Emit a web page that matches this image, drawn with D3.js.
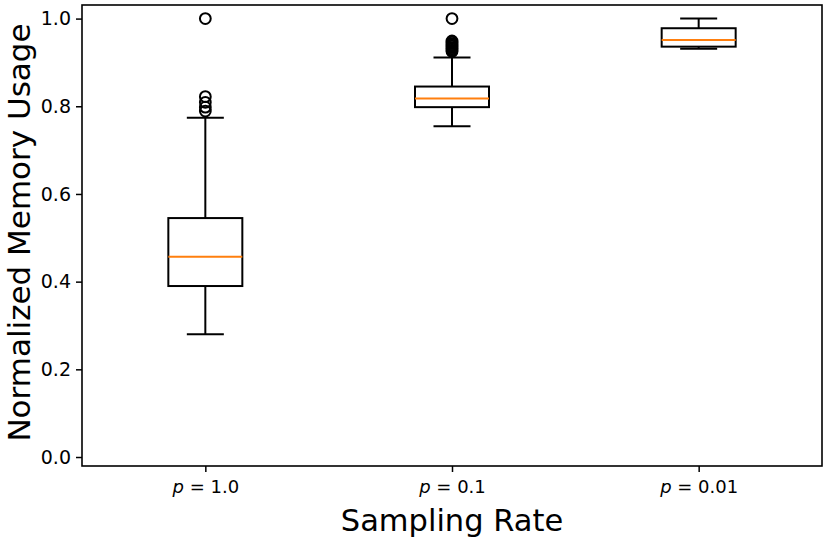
<!DOCTYPE html>
<html>
<head>
<meta charset="utf-8">
<script src="https://cdn.jsdelivr.net/npm/d3@7"></script>
<style>
  body { margin: 0; background: #fff; }
  svg { display: block; font-family: "DejaVu Sans", sans-serif; }
</style>
</head>
<body>
<div id="chart"></div>
<script>
// box statistics
const categories = ["1.0", "0.1", "0.01"];
const whiskerLow = [0.280, 0.7545, 0.931];
const q1 = [0.390, 0.798, 0.936];
const medians = [0.457, 0.8175, 0.951];
const q3 = [0.545, 0.845, 0.978];
const whiskerHigh = [0.774, 0.911, 1.0];
const outliers = [
    [1.0, 0.822, 0.809, 0.798, 0.789],
    [1.0, 0.949, 0.946, 0.943, 0.940, 0.937, 0.934, 0.931, 0.928, 0.925],
    []
];
const yTicks = [0.0, 0.2, 0.4, 0.6, 0.8, 1.0];

const width = 830;
const height = 554;
const margin = { top: 5, right: 8, bottom: 88, left: 82 };

const svg = d3.select("#chart")
    .append("svg")
    .attr("width", width)
    .attr("height", height);

const x = d3.scaleLinear()
    .domain([0.5, categories.length + 0.5])
    .range([margin.left, width - margin.right]);

const y = d3.scaleLinear()
    .domain([-0.0205, 1.031])
    .range([height - margin.bottom, margin.top]);

const boxW = x(1.3) - x(1.0);
const capW = boxW / 2;

const boxes = categories.map((c, i) => ({
    cat: c, pos: i + 1,
    lo: whiskerLow[i], q1: q1[i], med: medians[i], q3: q3[i], hi: whiskerHigh[i],
    out: outliers[i]
}));

const g = svg.append("g");

const box = g.selectAll(".box")
    .data(boxes)
    .enter().append("g")
    .attr("class", "box");

// whiskers
box.append("line")
    .attr("x1", d => x(d.pos)).attr("x2", d => x(d.pos))
    .attr("y1", d => y(d.q1)).attr("y2", d => y(d.lo))
    .attr("stroke", "#000").attr("stroke-width", 2);
box.append("line")
    .attr("x1", d => x(d.pos)).attr("x2", d => x(d.pos))
    .attr("y1", d => y(d.q3)).attr("y2", d => y(d.hi))
    .attr("stroke", "#000").attr("stroke-width", 2);

// caps
box.append("line")
    .attr("x1", d => x(d.pos) - capW / 2).attr("x2", d => x(d.pos) + capW / 2)
    .attr("y1", d => y(d.lo)).attr("y2", d => y(d.lo))
    .attr("stroke", "#000").attr("stroke-width", 2);
box.append("line")
    .attr("x1", d => x(d.pos) - capW / 2).attr("x2", d => x(d.pos) + capW / 2)
    .attr("y1", d => y(d.hi)).attr("y2", d => y(d.hi))
    .attr("stroke", "#000").attr("stroke-width", 2);

// box body
box.append("rect")
    .attr("x", d => x(d.pos) - boxW / 2)
    .attr("width", boxW)
    .attr("y", d => y(d.q3))
    .attr("height", d => y(d.q1) - y(d.q3))
    .attr("fill", "none")
    .attr("stroke", "#000")
    .attr("stroke-width", 2);

// median
box.append("line")
    .attr("x1", d => x(d.pos) - boxW / 2).attr("x2", d => x(d.pos) + boxW / 2)
    .attr("y1", d => y(d.med)).attr("y2", d => y(d.med))
    .attr("stroke", "#ff7f0e").attr("stroke-width", 2);

// fliers
box.selectAll(".flier")
    .data(d => d.out.map(v => ({ pos: d.pos, v: v })))
    .enter().append("circle")
    .attr("class", "flier")
    .attr("cx", d => x(d.pos))
    .attr("cy", d => y(d.v))
    .attr("r", 5.4)
    .attr("fill", "none")
    .attr("stroke", "#000")
    .attr("stroke-width", 2);

// y axis
const yAxis = svg.append("g")
    .attr("transform", `translate(${margin.left},0)`)
    .call(d3.axisLeft(y).tickValues(yTicks).tickFormat(d3.format(".1f")).tickSize(6).tickPadding(5));

// x axis
const xAxis = svg.append("g")
    .attr("transform", `translate(0,${height - margin.bottom})`)
    .call(d3.axisBottom(x).tickValues(boxes.map(d => d.pos)).tickFormat("").tickSize(6));

[yAxis, xAxis].forEach(a => {
    a.select(".domain").remove();
    a.selectAll(".tick line").attr("stroke", "#000").attr("stroke-width", 1.5);
});
yAxis.selectAll(".tick text")
    .attr("fill", "#000")
    .style("font-size", "19px")
    .style("font-family", "DejaVu Sans");

// x tick labels with italic p
xAxis.selectAll(".tick").each(function(d) {
    const t = d3.select(this).select("text")
        .attr("y", 27)
        .attr("dy", null)
        .attr("fill", "#000")
        .style("font-size", "18px")
        .style("font-family", "DejaVu Sans")
        .text(null);
    t.append("tspan").style("font-style", "italic").text("p");
    t.append("tspan").text(" = " + categories[d - 1]);
});

// frame
svg.append("rect")
    .attr("x", margin.left)
    .attr("y", margin.top)
    .attr("width", width - margin.left - margin.right)
    .attr("height", height - margin.top - margin.bottom)
    .attr("fill", "none")
    .attr("stroke", "#000")
    .attr("stroke-width", 1.6);

// axis titles
svg.append("text")
    .attr("x", (margin.left + width - margin.right) / 2)
    .attr("y", 531)
    .attr("text-anchor", "middle")
    .style("font-size", "30.5px")
    .text("Sampling Rate");

svg.append("text")
    .attr("transform", `translate(30,${(margin.top + height - margin.bottom) / 2 - 3}) rotate(-90)`)
    .attr("text-anchor", "middle")
    .style("font-size", "31px")
    .text("Normalized Memory Usage");
</script>
</body>
</html>
